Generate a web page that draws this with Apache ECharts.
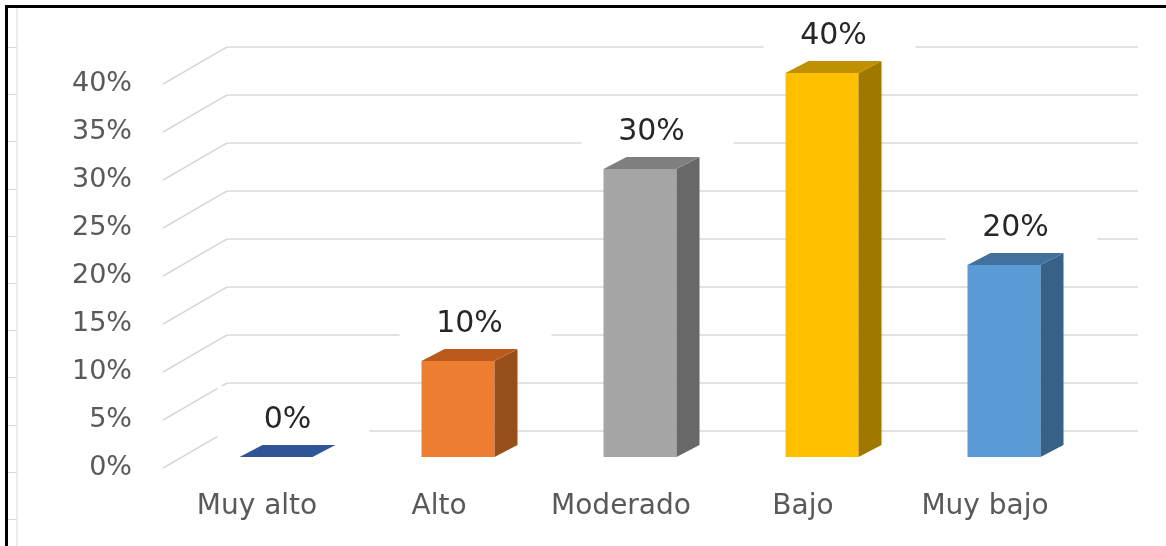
<!DOCTYPE html>
<html>
<head>
<meta charset="utf-8">
<style>
  html, body { margin: 0; padding: 0; background: #fff; }
  #chart { width: 1166px; height: 546px; }
</style>
<script src="https://cdn.jsdelivr.net/npm/echarts@6/dist/echarts.min.js"></script>
</head>
<body>
<div id="chart"></div>
<script>
// datos del grafico
var categories = ['Muy alto', 'Alto', 'Moderado', 'Bajo', 'Muy bajo'];
var values = [0, 0.10, 0.30, 0.40, 0.20];
var yTicks = [0, 0.05, 0.10, 0.15, 0.20, 0.25, 0.30, 0.35, 0.40];

// colores de cada barra: cara frontal, tapa, lateral
var frontColors = ['#2F5597', '#ED7D31', '#A5A5A5', '#FFC000', '#5B9BD5'];
var topColors = ['#2F5597', '#BC5A1E', '#7F7F7F', '#BF9000', '#41719C'];
var sideColors = ['#24447A', '#97501C', '#686868', '#A07800', '#386187'];

// efecto 3D (pixeles)
var WALL_DX = 64, WALL_DY = 37;   // pared del fondo
var BAR_DX = 19, BAR_DY = 11;     // barra dentro del suelo
var SIDE_DX = 23, SIDE_DY = 12;   // grosor de la barra
var BAR_W = 73;
var FONT = '"DejaVu Sans", sans-serif';

function pct(v) {
  return Math.round(v * 100) + '%';
}

// lineas de la pared lateral + fondo
function renderWall(params, api) {
  var cs = params.coordSys;
  var y = api.coord([0, api.value(1)])[1];
  return {
    type: 'polyline',
    shape: { points: [[cs.x - 3, y], [cs.x + WALL_DX - 3, y - WALL_DY], [cs.x + cs.width + WALL_DX - 2, y - WALL_DY]] },
    style: { stroke: '#d9d9d9', lineWidth: 1.6, fill: null }
  };
}

function renderBar(params, api) {
  var i = api.value(0), v = api.value(1);
  var base = api.coord([i, 0]);
  var top = api.coord([i, v]);
  var x0 = base[0] + BAR_DX - BAR_W / 2, x1 = x0 + BAR_W;
  var yb = base[1] - BAR_DY, yt = top[1] - BAR_DY;
  var lx = (x0 + x1) / 2 + SIDE_DX / 2, ly = yt - 37;
  var children = [
    // fondo blanco de la etiqueta (tapa las lineas de la cuadricula)
    { type: 'rect', shape: { x: lx - 70, y: ly - 34, width: 152, height: 54 }, style: { fill: '#fff' } },
    { type: 'text', x: lx, y: ly, style: { text: pct(v), font: '30px ' + FONT, fill: '#262626', align: 'center', verticalAlign: 'middle' } }
  ];
  if (yb - yt > 0.5) {
    children.push({ type: 'rect', shape: { x: x0, y: yt, width: BAR_W, height: yb - yt }, style: { fill: frontColors[i] } });
    children.push({
      type: 'polygon',
      shape: { points: [[x1, yb], [x1 + SIDE_DX, yb - SIDE_DY], [x1 + SIDE_DX, yt - SIDE_DY], [x1, yt]] },
      style: { fill: sideColors[i] }
    });
  }
  children.push({
    type: 'polygon',
    shape: { points: [[x0, yt], [x1, yt], [x1 + SIDE_DX, yt - SIDE_DY], [x0 + SIDE_DX, yt - SIDE_DY]] },
    style: { fill: topColors[i] }
  });
  return { type: 'group', children: children };
}

// marco y lineas de la hoja (decoracion)
var sheet = [
  { type: 'line', z: 100, shape: { x1: 6.5, y1: 5, x2: 6.5, y2: 546 }, style: { stroke: '#000', lineWidth: 3 } },
  { type: 'line', z: 100, shape: { x1: 5, y1: 6.5, x2: 1166, y2: 6.5 }, style: { stroke: '#000', lineWidth: 3 } },
  { type: 'line', z: 100, shape: { x1: 17, y1: 8, x2: 17, y2: 546 }, style: { stroke: '#d9d9d9', lineWidth: 1 } }
];
for (var r = 47; r < 546; r += 47.2) {
  sheet.push({ type: 'line', z: 100, shape: { x1: 8, y1: Math.round(r) + 0.5, x2: 17, y2: Math.round(r) + 0.5 }, style: { stroke: '#d9d9d9', lineWidth: 1 } });
}

var chart = echarts.init(document.getElementById('chart'));
chart.setOption({
  backgroundColor: '#fff',
  animation: false,
  graphic: sheet,
  grid: { left: 166, right: 90, top: 84, bottom: 78, outerBoundsMode: 'none' },
  xAxis: {
    type: 'category',
    data: categories,
    axisLine: { show: false },
    axisTick: { show: false },
    axisLabel: { interval: 0, margin: 25, color: '#595959', fontSize: 28, fontFamily: FONT }
  },
  yAxis: {
    type: 'value',
    min: 0,
    max: 0.4,
    interval: 0.05,
    axisLine: { show: false },
    axisTick: { show: false },
    splitLine: { show: false },
    axisLabel: { margin: 34, color: '#595959', fontSize: 27, fontFamily: FONT, formatter: pct }
  },
  series: [
    {
      type: 'custom',
      z: 1,
      silent: true,
      renderItem: renderWall,
      data: yTicks.map(function (t) { return [0, t]; })
    },
    {
      type: 'custom',
      z: 2,
      renderItem: renderBar,
      data: values.map(function (v, i) { return [i, v]; })
    }
  ]
});
</script>
</body>
</html>
